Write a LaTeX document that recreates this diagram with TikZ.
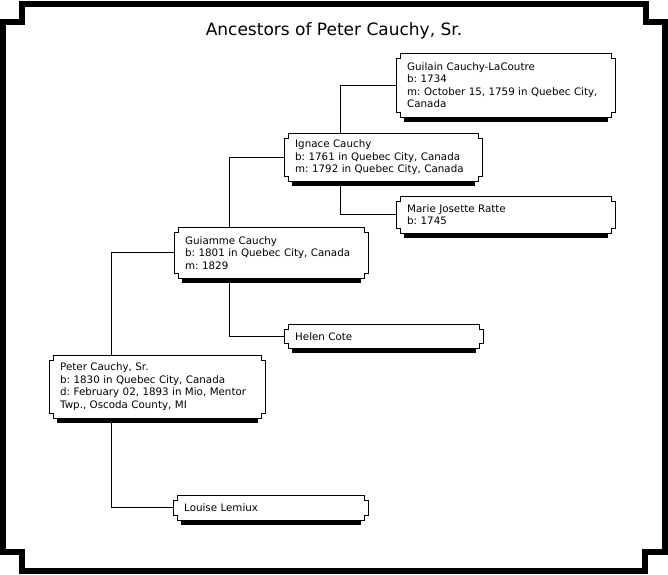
\documentclass[tikz,border=0pt]{standalone}
\usepackage{fontspec}
\setmainfont{DejaVu Sans}
\frenchspacing
\tikzset{my person/.style={anchor=north west, inner xsep=11pt, inner ysep=0pt, align=left, font=\fontsize{10.3}{12.5}\selectfont},
my link/.style={line width=1pt},}

\begin{document}
\begin{tikzpicture}[x=1pt,y=-1pt]
\useasboundingbox (0,0) rectangle (668,574);
% outer frame
\draw [line width=6pt] (21.5,3.5) -- (645.5,3.5) -- (645.5,21.5) -- (664.5,21.5) -- (664.5,552) -- (645,552) -- (645,571) -- (22,571) -- (22,552) -- (3,552) -- (3,21.5) -- (21.5,21.5) -- cycle;
\node [anchor=base, font=\fontsize{17}{20}\selectfont] (title) at (334,35) {Ancestors of Peter Cauchy, Sr.};
% people
\node [my person, text width=197pt, minimum height=64pt] (guilain) at (396,53) {Guilain Cauchy-LaCoutre\\b: 1734\\m: October 15, 1759 in Quebec City,\\Canada};
\node [my person, text width=176pt, minimum height=48pt] (ignace) at (284,133) {Ignace Cauchy\\b: 1761 in Quebec City, Canada\\m: 1792 in Quebec City, Canada};
\node [my person, text width=197pt, minimum height=37pt] (marie) at (396,196) {Marie Josette Ratte\\b: 1745};
\node [my person, text width=172pt, minimum height=51pt] (guiamme) at (174,227) {Guiamme Cauchy\\b: 1801 in Quebec City, Canada\\m: 1829};
\node [my person, text width=177pt, minimum height=24pt] (helen) at (284,324) {Helen Cote};
\node [my person, text width=194pt, minimum height=63pt] (peter) at (49,355) {Peter Cauchy, Sr.\\b: 1830 in Quebec City, Canada\\d: February 02, 1893 in Mio, Mentor\\Twp., Oscoda County, MI};
\node [my person, text width=173pt, minimum height=25pt] (louise) at (173,495) {Louise Lemiux};
% box outlines and shadows
\foreach \n in {guilain,ignace,marie,guiamme,helen,peter,louise} {
  \fill ([xshift=8pt]\n.south west) rectangle ([xshift=-7pt,yshift=-5pt]\n.south east);
  \draw [line width=1pt] ([xshift=4pt]\n.north west) -- ([xshift=-4pt]\n.north east) -- ++(0,5) -- ++(4,0)
    -- ([yshift=5pt]\n.south east) -- ++(-4,0) -- ++(0,5) -- ([xshift=4pt]\n.south west) -- ++(0,-5) -- ++(-4,0)
    -- ([yshift=-5pt]\n.north west) -- ++(4,0) -- cycle;
}
% links
\draw [my link] ([xshift=56pt]ignace.north west) |- (guilain.west);
\draw [my link] ([xshift=56pt]ignace.south west) |- (marie.west);
\draw [my link] ([xshift=55pt]guiamme.north west) |- (ignace.west);
\draw [my link] ([xshift=55pt]guiamme.south west) |- (helen.west);
\draw [my link] ([xshift=62pt]peter.north west) |- (guiamme.west);
\draw [my link] ([xshift=62pt]peter.south west) |- (louise.west);
\end{tikzpicture}
\end{document}
